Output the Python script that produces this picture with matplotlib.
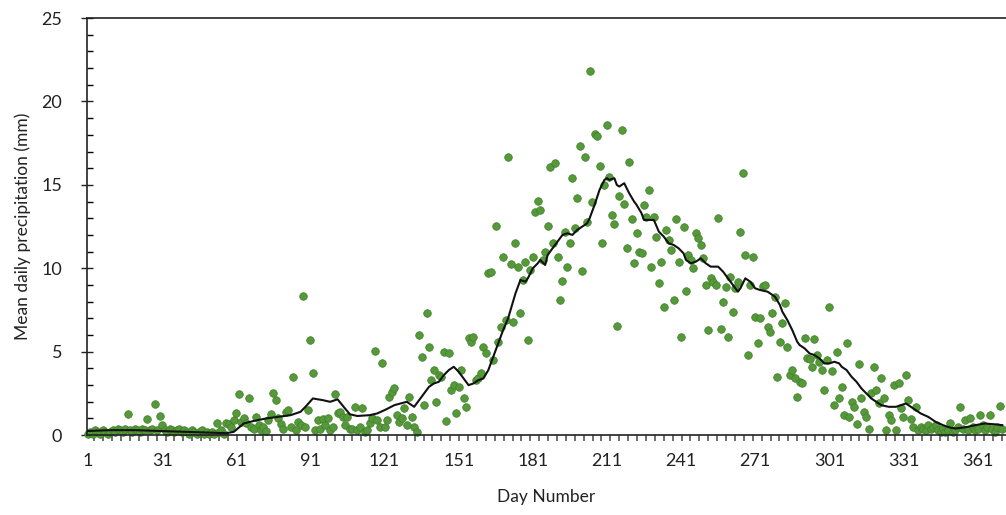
import numpy as np
import matplotlib
matplotlib.use("Agg")
import matplotlib.pyplot as plt
from matplotlib.ticker import MultipleLocator

plt.rcParams['font.family'] = ['Lato', 'DejaVu Sans']

# Daily precipitation (mm), one value per day starting at day 1
precip = [
    0.1, 0.2, 0.1, 0.3, 0.2, 0.1, 0.3, 0.2, 0.1, 0.2,
    0.3, 0.2, 0.4, 0.3, 0.2, 0.4, 1.25, 0.3, 0.2, 0.4,
    0.3, 0.2, 0.4, 0.3, 0.95, 0.3, 0.4, 1.85, 0.3, 1.15,
    0.6, 0.3, 0.2, 0.4, 0.3, 0.2, 0.3, 0.4, 0.2, 0.3,
    0.2, 0.1, 0.3, 0.2, 0.1, 0.2, 0.3, 0.1, 0.2, 0.1,
    0.2, 0.1, 0.7, 0.2, 0.3, 0.1, 0.7, 0.65, 0.5, 0.9,
    1.3, 2.45, 0.8, 1.0, 0.7, 2.2, 0.5, 0.4, 1.1, 0.6,
    0.3, 0.5, 0.25, 0.9, 1.25, 2.5, 2.1, 1.0, 0.65, 0.4,
    1.4, 1.5, 0.5, 3.5, 0.3, 0.8, 0.6, 8.35, 0.5, 1.5,
    5.7, 3.7, 0.3, 0.9, 0.4, 0.95, 0.6, 1.0, 0.3, 0.5,
    2.45, 1.3, 1.4, 1.1, 0.6, 1.1, 0.4, 0.4, 1.7, 0.3,
    0.5, 1.6, 0.2, 0.3, 0.7, 1.0, 5.05, 0.9, 0.5, 4.3,
    0.5, 0.9, 2.3, 2.6, 2.8, 1.2, 0.8, 1.0, 1.6, 0.6,
    2.3, 1.1, 0.5, 0.2, 6.0, 4.7, 1.8, 7.35, 5.3, 3.3,
    3.9, 2.0, 3.6, 3.5, 5.0, 0.85, 4.9, 2.7, 3.0, 1.3,
    2.9, 3.9, 2.2, 1.7, 5.8, 5.6, 5.9, 3.3, 3.4, 3.7,
    5.3, 4.9, 9.7, 9.8, 4.5, 12.55, 5.6, 6.5, 10.65, 6.9,
    16.7, 10.25, 6.8, 11.5, 10.1, 7.3, 9.3, 10.4, 5.7, 9.9,
    10.7, 13.4, 14.05, 13.5, 10.5, 11.0, 12.55, 16.1, 11.5, 16.3,
    10.7, 8.1, 9.25, 12.2, 10.1, 11.5, 15.4, 12.4, 14.2, 17.35,
    9.85, 16.7, 12.8, 21.85, 14.0, 18.05, 17.9, 16.15, 11.5, 15.0,
    18.6, 15.5, 13.2, 12.65, 6.55, 14.35, 18.3, 13.85, 11.2, 16.4,
    12.95, 10.3, 12.1, 11.0, 10.9, 13.8, 13.1, 14.7, 10.1, 13.1,
    11.85, 9.1, 10.4, 7.7, 12.3, 11.7, 11.1, 8.1, 12.95, 10.4,
    5.9, 12.5, 8.65, 10.8, 10.5, 10.0, 12.1, 11.8, 11.4, 10.6,
    9.0, 6.3, 9.4, 9.2, 9.0, 13.0, 6.35, 8.0, 8.9, 5.9,
    9.5, 7.4, 8.8, 9.2, 12.2, 15.7, 10.8, 4.8, 9.0, 10.7,
    7.1, 5.5, 7.0, 8.95, 9.0, 6.5, 6.2, 7.3, 8.3, 3.5,
    5.6, 6.7, 7.9, 5.3, 3.6, 3.9, 3.4, 2.3, 3.2, 3.1,
    5.8, 4.6, 4.55, 4.1, 5.75, 4.8, 4.4, 3.9, 2.7, 4.5,
    7.7, 3.85, 1.8, 5.0, 2.2, 2.9, 1.2, 5.55, 1.1, 2.0,
    1.7, 0.64, 4.25, 2.2, 1.4, 1.1, 0.4, 2.5, 4.1, 2.7,
    1.9, 3.4, 2.2, 0.3, 1.2, 0.9, 3.0, 0.3, 3.1, 1.6,
    1.1, 3.6, 2.1, 0.94, 0.5, 1.7, 0.3, 0.5, 0.4, 0.3,
    0.6, 0.4, 0.5, 0.6, 0.3, 0.2, 0.4, 0.2, 0.3, 0.7,
    0.2, 0.3, 0.5, 1.7, 0.4, 0.9, 0.3, 1.0, 0.5, 0.3,
    0.4, 1.2, 0.6, 0.3, 0.5, 1.2, 0.4, 0.2, 0.5, 1.75,
    0.4,
]
days = np.arange(1, len(precip) + 1)

# Running mean line
mean_days = [1, 10, 20, 30, 40, 50, 57, 60, 64, 68, 73, 78, 83, 87, 89, 92,
             96, 99, 102, 105, 107, 110, 115, 118, 121, 125, 130, 133, 136,
             139, 141, 143, 145, 147, 149, 151, 153, 155, 157, 159, 161, 163,
             165, 167, 169, 171, 172, 174, 176, 178, 179, 181, 183, 184, 186,
             187, 189, 191, 193, 195, 197, 199, 201, 203, 204, 206, 208, 210,
             211, 212, 214, 215, 216, 218, 219, 220, 222, 223, 225, 226, 228,
             230, 232, 234, 236, 238, 240, 242, 243, 245, 247, 249, 251, 253,
             256, 258, 260, 262, 264, 265, 267, 269, 271, 273, 276, 278, 279,
             281, 282, 284, 286, 288, 289, 291, 293, 295, 297, 299, 301, 303,
             305, 306, 308, 310, 312, 314, 316, 318, 320, 322, 325, 328, 330,
             332, 334, 336, 338, 341, 344, 347, 350, 352, 355, 357, 360, 364,
             368, 371]
mean_vals = [0.25, 0.3, 0.3, 0.25, 0.2, 0.15, 0.12, 0.2, 0.7, 0.85, 1.0, 1.1,
             1.2, 1.4, 1.7, 2.2, 2.1, 2.0, 2.15, 1.6, 1.25, 1.15, 1.2, 1.3,
             1.5, 1.8, 2.0, 1.7, 2.3, 2.9, 3.1, 3.2, 3.6, 3.9, 4.1, 3.8, 3.4,
             3.0, 3.1, 3.3, 3.4, 3.9, 4.7, 5.5, 6.3, 7.0, 7.5, 8.5, 9.3, 9.2,
             9.4, 10.0, 10.3, 10.5, 10.2, 10.8, 11.2, 11.6, 12.0, 12.1, 12.0,
             12.3, 12.5, 12.7, 13.0, 13.8, 14.7, 15.3, 15.4, 15.3, 15.4, 15.0,
             14.9, 15.1, 14.8, 14.5, 14.0, 13.8, 13.3, 12.9, 12.9, 12.9, 12.2,
             11.9, 11.5, 11.4, 11.2, 10.9, 10.5, 10.3, 10.4, 10.6, 10.3, 10.1,
             10.1, 9.8, 9.4, 9.0, 8.6, 8.8, 9.4, 9.2, 8.8, 8.7, 8.6, 8.4, 8.3,
             7.8, 7.4, 6.9, 6.3, 5.6, 5.4, 5.2, 4.9, 4.8, 4.6, 4.3, 4.3, 4.4,
             4.3, 4.1, 3.9, 3.5, 3.2, 2.8, 2.5, 2.2, 2.0, 1.8, 1.7, 1.7, 1.8,
             1.9, 1.7, 1.5, 1.3, 1.1, 0.8, 0.6, 0.45, 0.4, 0.45, 0.5, 0.6, 0.7,
             0.65, 0.6]

x_labels = [1, 31, 61, 91, 121, 151, 181, 211, 241, 271, 301, 331, 361]

fig = plt.figure(figsize=(10.06, 5.15), dpi=100)
ax = fig.add_axes([0.0865, 0.155, 0.9135, 0.81])

ax.scatter(days, precip, s=30, color='#56993a', edgecolors='#3f7f2a',
           linewidths=0.5, zorder=2, clip_on=False)
ax.plot(mean_days, mean_vals, color='#111111', lw=1.5, zorder=3)

ax.set_xlim(0.6, 372.5)
ax.set_ylim(0, 25)

ax.set_xticks(x_labels)
ax.xaxis.set_minor_locator(MultipleLocator(3.6))
ax.yaxis.set_major_locator(MultipleLocator(5))
ax.yaxis.set_minor_locator(MultipleLocator(1))

ax.tick_params(axis='x', which='major', length=0, labelsize=13, pad=13,
               colors='#222222')
ax.tick_params(axis='x', which='minor', direction='out', length=4, width=1.2,
               color='#555555')
ax.tick_params(axis='y', which='major', direction='inout', length=8, width=1,
               labelsize=13, pad=14, colors='#222222')
ax.tick_params(axis='y', which='minor', direction='in', length=4, width=1)

for s in ['left', 'bottom', 'top']:
    ax.spines[s].set_color('#222222')
    ax.spines[s].set_linewidth(1.2)
ax.spines['right'].set_visible(False)

ax.set_xlabel('Day Number', fontsize=12.5, labelpad=14, color='#222222')
ax.set_ylabel('Mean daily precipitation (mm)', fontsize=12.5, labelpad=7,
              color='#222222')

fig.savefig('out.png', dpi=100)
